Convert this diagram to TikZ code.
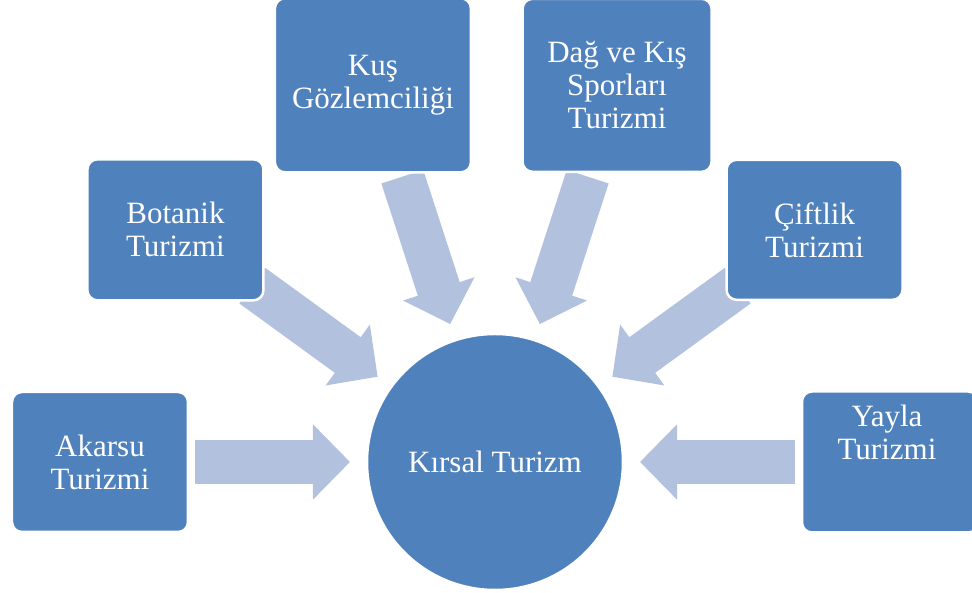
\documentclass[tikz,border=0pt]{standalone}
\usepackage{fontspec}
\setmainfont{Liberation Serif}
\usepackage{tikz}
\usetikzlibrary{arrows.meta}

\definecolor{boxblue}{HTML}{4F81BD}
\definecolor{flowblue}{HTML}{B2C1DD}

\tikzset{
  box/.style={draw=white, line width=2.5pt, fill=boxblue, rounded corners=10pt,
    minimum width=176pt, minimum height=140pt, align=center, text=white,
    font=\fontsize{31}{33}\selectfont},
  boxtext/.style={align=center, text=white, font=\fontsize{31}{33}\selectfont},
  hub/.style={draw=white, line width=2.5pt, fill=boxblue, circle, minimum size=256pt,
    text=white, font=\fontsize{31}{33}\selectfont},
  flow/.style={draw=flowblue, line width=44pt, -{Triangle[length=37pt,width=73pt]},
    shorten <=95pt, shorten >=145pt}
}

\begin{document}
\begin{tikzpicture}[x=1pt, y=1pt]
  \useasboundingbox (-495,-131) rectangle (477,462);

  \node [hub] (kirsal) at (0,0) {Kırsal Turizm};

  \coordinate (akarsu_c) at (180:395);
  \coordinate (botanik_c) at (144:395);
  \coordinate (kus_c) at (108:395);
  \coordinate (dag_c) at (72:395);
  \coordinate (ciftlik_c) at (36:395);
  \coordinate (yayla_c) at (0:395);

  \foreach \n in {akarsu_c, botanik_c, kus_c, dag_c, ciftlik_c, yayla_c}
    \draw [flow] (\n) -- (kirsal.center);

  \node [box] (akarsu) at (akarsu_c) {Akarsu\\Turizmi};
  \node [box, minimum height=141pt] (botanik) at (botanik_c) {Botanik\\Turizmi};
  \node [box, minimum width=196pt, minimum height=174pt, yshift=1pt] (kus) at (kus_c) {Kuş\\Gözlemciliği};
  \node [box, minimum width=189pt, minimum height=173pt, yshift=1pt] (dag) at (dag_c) {Dağ ve Kış\\Sporları\\Turizmi};
  \node [box] (ciftlik) at (ciftlik_c) {Çiftlik\\Turizmi};
  \node [box, minimum height=141pt] (yayla) at (yayla_c) {};
  \node [boxtext, xshift=-3pt, yshift=30pt] (yayla_t) at (yayla.center) {Yayla\\Turizmi};
\end{tikzpicture}
\end{document}
